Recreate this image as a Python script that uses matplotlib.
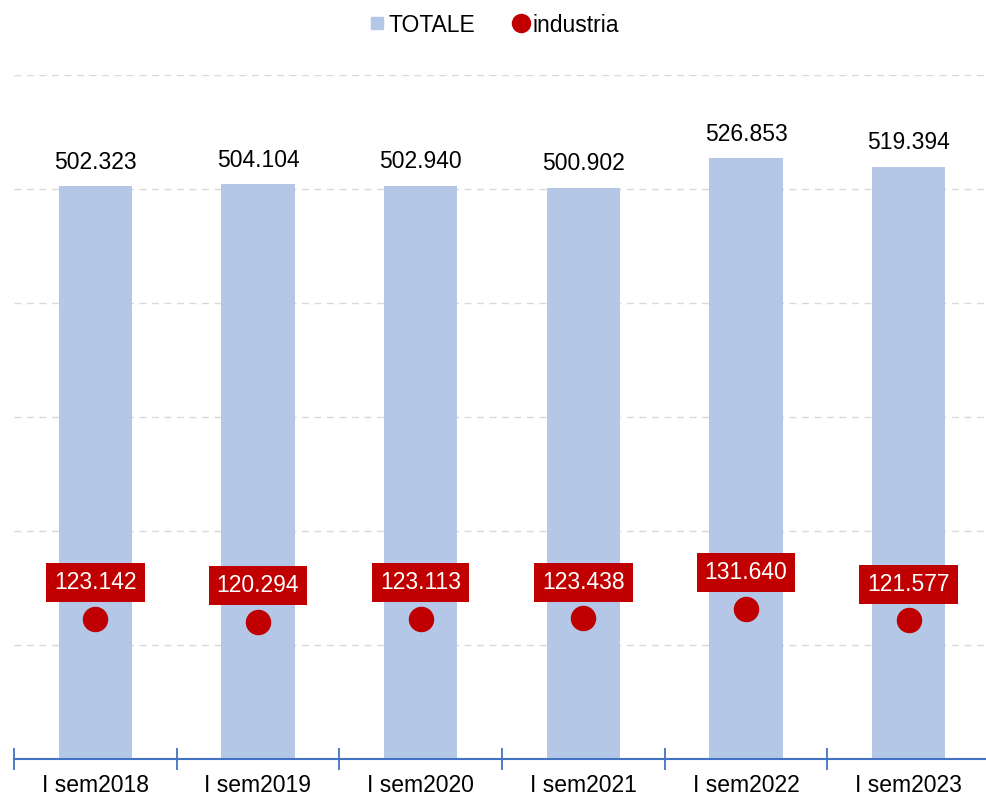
import matplotlib.pyplot as plt
from matplotlib.lines import Line2D

plt.rcParams['font.family'] = ['Liberation Sans', 'DejaVu Sans']

categories = ["I sem2018", "I sem2019", "I sem2020", "I sem2021", "I sem2022", "I sem2023"]
totale = [502.323, 504.104, 502.940, 500.902, 526.853, 519.394]
industria = [123.142, 120.294, 123.113, 123.438, 131.640, 121.577]


def fmt(v):
    return f"{v:.3f}"


fig = plt.figure(figsize=(9.87, 7.98), dpi=100)
ax = fig.add_axes([14 / 987, 1 - 759 / 798, 976 / 987, (759 - 75) / 798])

x = list(range(len(categories)))
ax.bar(x, totale, width=0.45, color="#B4C7E7", zorder=2)
ax.scatter(x, industria, s=300, color="#C00000", zorder=3)

for xi, v in zip(x, totale):
    ax.annotate(fmt(v), (xi, v), xytext=(0, 9), textcoords="offset points",
                ha="center", va="bottom", fontsize=16.5, color="black")

for xi, v in zip(x, industria):
    ax.annotate(fmt(v), (xi, v), xytext=(0, 26), textcoords="offset points",
                ha="center", va="center", fontsize=16.5, color="white",
                bbox=dict(boxstyle="square,pad=0.35", fc="#C00000", ec="none"),
                zorder=4)

ax.set_xlim(-0.5, 5.5)
ax.set_ylim(0, 600)
ax.set_yticks(range(0, 601, 100))
ax.yaxis.grid(True, color="#D9D9D9", linestyle=(0, (5, 4)), linewidth=1)
ax.set_axisbelow(True)
ax.tick_params(axis="y", left=False, labelleft=False)

ax.set_xticks([i - 0.5 for i in range(len(categories) + 1)])
ax.set_xticklabels([])
ax.set_xticks(x, minor=True)
ax.set_xticklabels(categories, minor=True, fontsize=16.5)
ax.tick_params(axis="x", which="minor", length=0, pad=11)
ax.tick_params(axis="x", which="major", direction="inout", length=16,
               color="#4472C4", width=1.3)

for s in ["top", "right", "left"]:
    ax.spines[s].set_visible(False)
ax.spines["bottom"].set_color("#4472C4")
ax.spines["bottom"].set_linewidth(1.5)

handles = [
    Line2D([], [], marker="s", linestyle="none", color="#B4C7E7", markersize=8),
    Line2D([], [], marker="o", linestyle="none", color="#C00000", markersize=13),
]
fig.legend(handles, ["TOTALE", "industria"], loc="center", bbox_to_anchor=(0.5, 1 - 25 / 798),
           ncol=2, frameon=False, fontsize=16.5, handletextpad=0.1, columnspacing=1.6,
           handlelength=0.8)

fig.savefig("out.png", dpi=100)
